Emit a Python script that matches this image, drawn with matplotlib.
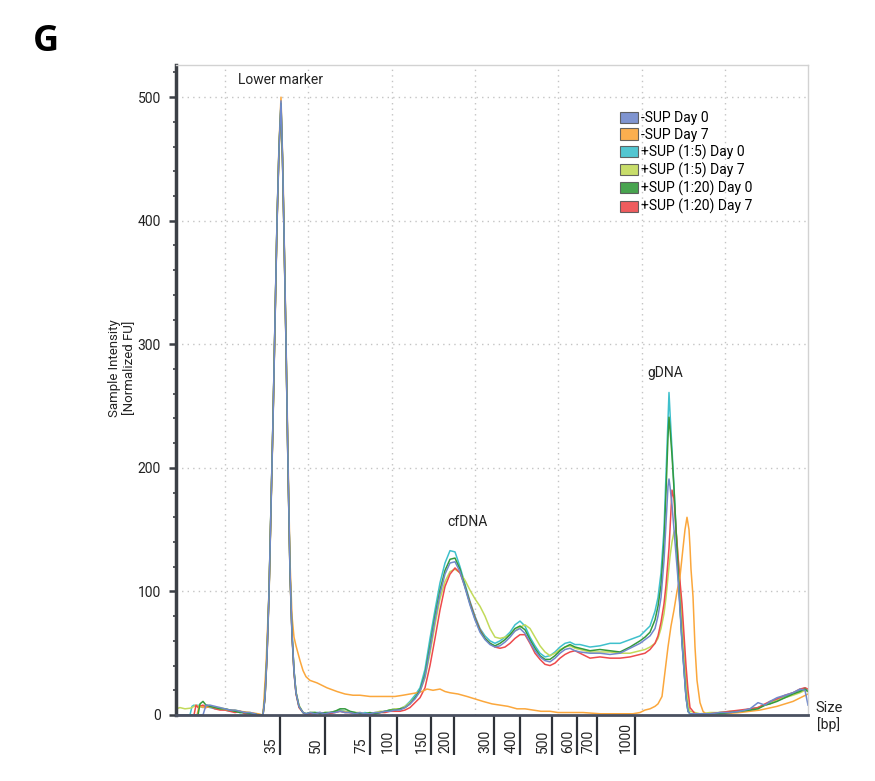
import matplotlib
matplotlib.use("Agg")
import matplotlib.pyplot as plt
from matplotlib.patches import Patch

plt.rcParams.update({
    "font.family": ["Roboto", "DejaVu Sans"],
    "font.size": 10,
})

# -- trace colours --
BLUE = "#7189CB"
ORANGE = "#FBA73C"
CYAN = "#3FC0CC"
LIME = "#C2DA5A"
GREEN = "#349A3C"
RED = "#EE4A4C"
AXIS = "#3C4046"
GRID = "#C4C4C4"

# migration position (arbitrary units) shared by the five sample traces
pos = [176, 180, 185, 190, 192, 194, 196, 198, 200, 203, 206, 210, 215, 220, 225,
       230, 235, 240, 245, 250, 255, 258, 263, 265, 267, 269, 271, 273, 275, 277,
       279, 281, 282.5, 284, 286, 288, 290, 292, 294, 296, 299, 303, 306, 310, 315,
       320, 325, 330, 335, 340, 345, 350, 355, 360, 365, 370, 375, 380, 385, 390,
       395, 400, 405, 410, 415, 420, 425, 430, 435, 440, 445, 450, 455, 460, 465,
       470, 475, 480, 485, 490, 495, 500, 505, 510, 515, 520, 525, 530, 535, 540,
       545, 550, 555, 560, 565, 570, 575, 580, 590, 600, 610, 620, 630, 640, 645,
       650, 655, 658, 661, 664, 666, 668, 669, 670, 672, 674, 676, 678, 680, 682,
       684, 686, 688, 690, 695, 700, 710, 720, 730, 740, 750, 758, 765, 770, 777,
       785, 793, 800, 805, 808]

sup_d0 = [0, 0, 0, 0, 0, 0, 0, 0, 0, 0, 8, 8, 7, 6, 5,
          4, 4, 3, 2, 2, 1, 0, 0, 14, 48, 98, 168, 238, 318, 398,
          458, 497, 452, 392, 302, 204, 118, 66, 36, 18, 7, 2, 1, 2, 1,
          2, 1, 2, 2, 3, 2, 2, 1, 2, 1, 1, 2, 2, 3, 3,
          4, 4, 6, 9, 13, 19, 31, 53, 77, 98, 114, 123, 124, 116, 103,
          89, 77, 67, 61, 57, 55, 56, 59, 63, 68, 70, 66, 59, 52, 47,
          44, 43, 46, 50, 53, 54, 52, 51, 50, 50, 49, 50, 54, 58, 61,
          64, 70, 80, 95, 125, 155, 185, 191, 185, 170, 150, 130, 110, 85, 58,
          36, 14, 3, 1, 1, 1, 1, 2, 2, 3, 5, 10, 8, 11, 14,
          16, 18, 21, 20, 8]

sup15_d0 = [0, 0, 0, 0, 7, 8, 7, 8, 7, 6, 7, 6, 5, 5, 4,
            3, 3, 2, 2, 1, 1, 0, 0, 15, 50, 100, 170, 240, 320, 400,
            460, 494, 450, 390, 300, 200, 115, 65, 35, 18, 7, 2, 1, 1, 2,
            2, 1, 2, 3, 4, 3, 2, 2, 1, 2, 1, 1, 2, 3, 4,
            5, 5, 7, 11, 16, 22, 37, 62, 85, 107, 123, 133, 132, 120, 106,
            92, 80, 70, 64, 60, 58, 60, 63, 67, 73, 76, 72, 63, 56, 50,
            47, 48, 51, 55, 58, 59, 57, 57, 55, 56, 58, 58, 61, 64, 68,
            72, 84, 95, 115, 150, 195, 240, 261, 245, 215, 185, 150, 118, 88, 60,
            38, 15, 3, 1, 1, 0, 1, 2, 2, 3, 5, 6, 8, 10, 12,
            15, 18, 20, 22, 20]

sup15_d7 = [5, 6, 5, 5.5, 6, 7, 8, 7, 8, 7, 8, 7, 6, 6, 5,
            4, 4, 3, 2, 2, 1, 0.5, 0, 13, 46, 95, 165, 235, 315, 395,
            455, 490, 448, 388, 298, 200, 116, 66, 36, 19, 8, 2, 1, 2, 2,
            1, 2, 2, 3, 3, 3, 2, 2, 2, 1, 1, 2, 3, 3, 4,
            5, 5, 7, 10, 14, 19, 30, 50, 73, 94, 108, 116, 118, 115, 109,
            101, 94, 88, 80, 70, 63, 62, 63, 65, 68, 71, 73, 70, 63, 56,
            51, 48, 50, 53, 55, 56, 54, 53, 51, 51, 51, 50, 50, 52, 53,
            55, 58, 62, 70, 82, 95, 112, 120, 128, 140, 148, 150, 130, 105, 80,
            55, 30, 10, 3, 2, 1, 2, 2, 3, 3, 4, 6, 8, 9, 12,
            14, 16, 18, 20, 19]

sup120_d0 = [0, 0, 0, 0, 0, 0, 0, 0, 9, 11, 8, 7, 6, 5, 5,
             4, 3, 2, 2, 1, 1, 0, 0, 15, 49, 99, 169, 239, 319, 399,
             459, 495, 451, 391, 301, 201, 116, 66, 36, 18, 7, 2, 1, 2, 2,
             1, 2, 2, 3, 5, 5, 3, 2, 1, 1, 2, 1, 2, 3, 4,
             4, 5, 6, 9, 14, 20, 33, 56, 80, 101, 117, 126, 127, 118, 104,
             90, 78, 68, 62, 58, 56, 58, 61, 65, 70, 72, 69, 61, 54, 48,
             45, 45, 48, 52, 55, 57, 55, 54, 52, 53, 52, 51, 55, 60, 63,
             67, 77, 88, 105, 140, 180, 225, 241, 232, 210, 183, 150, 118, 88, 60,
             38, 15, 3, 1, 1, 0, 1, 1, 2, 3, 4, 5, 8, 9, 11,
             14, 17, 19, 21, 19]

sup120_d7 = [0, 0, 0, 0, 0, 0, 8, 6, 7, 8, 6, 7, 5, 4, 4,
             3, 2, 3, 1, 1, 0, 0, 0, 14, 47, 97, 167, 237, 317, 397,
             457, 492, 449, 389, 299, 199, 114, 64, 34, 17, 6, 2, 0, 1, 1,
             2, 1, 1, 2, 3, 2, 2, 1, 1, 1, 1, 1, 2, 2, 3,
             3, 3, 4, 6, 10, 14, 22, 40, 62, 85, 104, 114, 119, 115, 104,
             91, 79, 69, 62, 58, 55, 54, 55, 58, 62, 65, 65, 58, 50, 45,
             41, 40, 42, 46, 49, 51, 52, 50, 46, 47, 46, 46, 47, 49, 50,
             53, 58, 64, 75, 90, 105, 125, 135, 150, 182, 175, 150, 128, 108, 90,
             65, 40, 20, 6, 1, 1, 1, 2, 3, 4, 5, 6, 9, 11, 13,
             16, 18, 21, 22, 21]

# -SUP Day 7 trace has its own sampling
pos_d7 = [176, 190, 197, 199, 205, 210, 220, 230, 240, 250, 258, 263, 266, 269, 271,
          273, 275, 277, 279, 281, 283, 284, 286, 288, 290, 292, 294, 296, 298, 300,
          303, 306, 310, 317, 322, 327, 337, 345, 353, 360, 370, 378, 387, 395, 403,
          410, 417, 422, 427, 433, 440, 445, 450, 458, 467, 475, 483, 492, 500, 508,
          517, 525, 533, 541, 550, 558, 567, 583, 600, 617, 633, 640, 645, 650, 655,
          658, 662, 665, 668, 671, 674, 677, 680, 683, 685, 687, 689, 690, 691, 693,
          695, 697, 700, 703, 707, 715, 725, 740, 760, 777, 793, 803, 808]

sup_d7 = [0, 0, 0, 7, 6, 7, 5, 4, 3, 2, 1, 0, 40, 100, 170,
          240, 320, 400, 462, 500, 440, 395, 305, 210, 125, 80, 63, 56, 50, 44,
          36, 31, 28, 26, 24, 22, 19, 17, 16, 16, 15, 15, 15, 15, 16,
          17, 18, 19, 21, 20, 21, 19, 18, 17, 15, 13, 11, 9, 8, 7,
          5, 5, 4, 3, 3, 2, 2, 2, 1, 1, 1, 2, 4, 5, 7,
          9, 15, 35, 55, 72, 85, 100, 112, 135, 150, 160, 150, 136, 118, 96,
          55, 28, 10, 3, 0, 1, 1, 2, 4, 7, 11, 15, 17]

series = [
    ("+SUP (1:5) Day 0", CYAN, pos, sup15_d0),
    ("+SUP (1:5) Day 7", LIME, pos, sup15_d7),
    ("+SUP (1:20) Day 7", RED, pos, sup120_d7),
    ("-SUP Day 7", ORANGE, pos_d7, sup_d7),
    ("+SUP (1:20) Day 0", GREEN, pos, sup120_d0),
    ("-SUP Day 0", BLUE, pos, sup_d0),
]
legend_order = ["-SUP Day 0", "-SUP Day 7", "+SUP (1:5) Day 0",
                "+SUP (1:5) Day 7", "+SUP (1:20) Day 0", "+SUP (1:20) Day 7"]

# size ladder positions on the migration axis
ladder_pos = [280.3, 325, 370, 396.5, 430.7, 454, 494, 520.4, 551.6, 576.8, 597.4, 634.5]
ladder_bp = ["35", "50", "75", "100", "150", "200", "300", "400", "500", "600", "700", "1000"]
grid_pos = [225, 308.3, 391.7, 475, 558.3, 641.7, 725]

fig = plt.figure(figsize=(8.75, 7.81), dpi=100)
ax = fig.add_axes([176 / 875, 66 / 781, 632 / 875, 650 / 781])
ax.set_xlim(176, 808)
ax.set_ylim(0, 526)

# grid
for g in grid_pos:
    ax.axvline(g, color=GRID, lw=1, ls=(0, (1, 3)), zorder=0)
for h in [100, 200, 300, 400, 500]:
    ax.axhline(h, color=GRID, lw=1, ls=(0, (1, 3)), zorder=0)

for name, col, xs, ys in series:
    ax.plot(xs, ys, color=col, lw=1.1, label=name, zorder=2)

# spines
for s in ["top", "right"]:
    ax.spines[s].set_color("#D2D2D2")
    ax.spines[s].set_linewidth(1)
ax.spines["left"].set_color(AXIS)
ax.spines["left"].set_linewidth(2.5)
ax.spines["bottom"].set_color("#4A5060")
ax.spines["bottom"].set_linewidth(2)

# y ticks
ax.set_yticks([0, 100, 200, 300, 400, 500])
ax.set_yticks(range(0, 521, 20), minor=True)
ax.tick_params(axis="y", which="major", length=5, width=1.8, color=AXIS,
               labelsize=10, labelcolor="#222222", pad=6)
ax.tick_params(axis="y", which="minor", length=2.5, width=1.2, color=AXIS)

# x ladder ticks with side labels
ax.set_xticks(ladder_pos)
ax.set_xticklabels([])
ax.tick_params(axis="x", length=29, width=1.6, color="#2E3238")
for p, lbl in zip(ladder_pos, ladder_bp):
    ax.annotate(lbl, xy=(p, 0), xycoords=("data", "axes fraction"),
                xytext=(-2, -38), textcoords="offset pixels",
                rotation=90, ha="right", va="bottom", fontsize=10, color="#222222")

# peak annotations
ax.text(281, 514, "Lower marker", ha="center", va="center", fontsize=10, color="#222222")
ax.text(468, 156, "cfDNA", ha="center", va="center", fontsize=10, color="#222222")
ax.text(665, 277, "gDNA", ha="center", va="center", fontsize=10, color="#222222")

# legend
handles = {n: Patch(facecolor=c, edgecolor="#555555", lw=0.8, alpha=0.9)
           for n, c, _, _ in series}
fig.legend([handles[n] for n in legend_order], legend_order,
           loc="upper left", bbox_to_anchor=(620 / 875, 1 - 111 / 781),
           frameon=False, fontsize=10, handlelength=1.3, handleheight=0.85,
           handletextpad=0.2, labelspacing=0.2, borderpad=0, borderaxespad=0)

fig.text(122 / 875, 1 - 368 / 781, "Sample Intensity\n[Normalized FU]", rotation=90,
         ha="center", va="center", fontsize=9.5, color="#222222", linespacing=1.15)
fig.text(815 / 875, 1 - 708 / 781, "Size", ha="left", va="center", fontsize=10.5, color="#222222")
fig.text(817 / 875, 1 - 725 / 781, "[bp]", ha="left", va="center", fontsize=10, color="#222222")
fig.text(46 / 875, 1 - 42 / 781, "G", ha="center", va="center", fontsize=26,
         fontweight="bold", family=["Open Sans", "DejaVu Sans"], color="black")

fig.savefig("out.png", dpi=100)
